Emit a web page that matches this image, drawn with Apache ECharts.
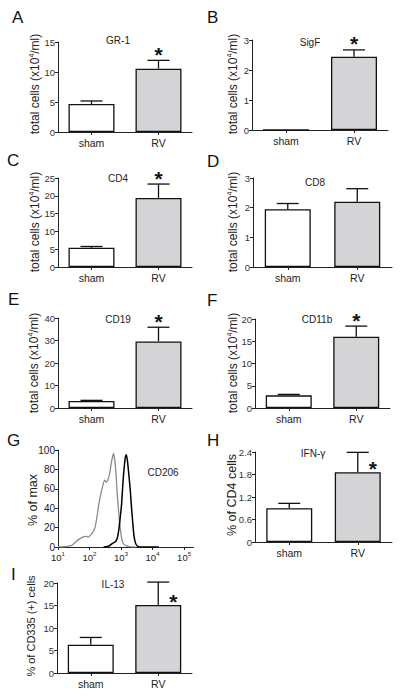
<!DOCTYPE html>
<html><head><meta charset="utf-8">
<script src="https://cdn.jsdelivr.net/npm/echarts@6/dist/echarts.min.js"></script>
<style>html,body{margin:0;padding:0;background:#fff}#c{width:400px;height:697px}</style>
</head><body><div id="c"></div>
<script>
// ---------------- DATA ----------------
const categories = ['sham', 'RV'];

const gr1Mean = [4.67, 10.56],  gr1Sem = [0.50, 1.38];
const sigfMean = [0, 2.44],     sigfSem = [0, 0.23];
const cd4Mean = [5.39, 19.4],   cd4Sem = [0.37, 3.9];
const cd8Mean = [1.95, 2.20],   cd8Sem = [0.19, 0.44];
const cd19Mean = [3.1, 29.6],   cd19Sem = [0.3, 6.3];
const cd11bMean = [2.84, 16.0], cd11bSem = [0.22, 2.4];
const ifngMean = [0.90, 1.86],  ifngSem = [0.13, 0.53];
const il13Mean = [6.3, 15.1],   il13Sem = [1.6, 5.1];

const gr1Sig = [0, 1], sigfSig = [0, 1], cd4Sig = [0, 1], cd8Sig = [0, 0];
const cd19Sig = [0, 1], cd11bSig = [0, 1], ifngSig = [0, 1], il13Sig = [0, 1];

// y-axis tick settings [max, interval]
const gr1Ticks = [15, 5], sigfTicks = [3, 1], cd4Ticks = [25, 5], cd8Ticks = [3, 1];
const cd19Ticks = [40, 10], cd11bTicks = [20, 5], ifngTicks = [2.4, 0.6], il13Ticks = [20, 5];

// CD206 histogram: [log10 fluorescence, % of max]
const cd206Gray = [[1.0,0],[1.28,0.7],[1.45,2],[1.55,5],[1.70,8.6],[1.80,10.5],[1.88,11],[1.96,10.3],[2.04,12.5],[2.12,16],[2.18,21],[2.24,32],[2.30,45],[2.36,55],[2.42,63],[2.48,69],[2.53,67],[2.58,69],[2.64,76],[2.70,88],[2.76,96.5],[2.80,90],[2.84,76],[2.88,55],[2.92,38],[2.96,24],[3.00,13],[3.05,5],[3.12,2],[3.25,0.5],[3.45,0]];
const cd206Black = [[2.45,0],[2.62,1],[2.72,3.5],[2.82,5.5],[2.88,9],[2.93,18],[2.98,32],[3.02,45],[3.06,66],[3.10,82],[3.14,93],[3.17,95],[3.21,87],[3.25,74],[3.29,60],[3.33,42],[3.37,26],[3.41,12],[3.46,4],[3.52,1],[3.65,0],[4.2,0]];
const cd206Decades = [1, 2, 3, 4, 5];
const cd206YTicks = [100, 20];

const panelLetters = ['A','B','C','D','E','F','G','H','I'];
const panelTitles = ['GR-1','SigF','CD4','CD8','CD19','CD11b','CD206','IFN-γ','IL-13'];
const yCells = '{n|total cells (x10}{s|4}{n|/ml)}';
const yNames = [yCells, yCells, yCells, yCells, yCells, yCells, '{n|% of max}', '{n|% of CD4 cells}', '{n|% of CD335 (+) cells}'];

// ---------------- LAYOUT ----------------
const F = 'Liberation Sans, Arial, sans-serif';
const bars = [
  {mean: gr1Mean, sem: gr1Sem, sig: gr1Sig, ticks: gr1Ticks, l:58, r:192, t:42, b:132, star:'top'},
  {mean: sigfMean, sem: sigfSem, sig: sigfSig, ticks: sigfTicks, l:252, r:388, t:40, b:130, star:'top'},
  {mean: cd4Mean, sem: cd4Sem, sig: cd4Sig, ticks: cd4Ticks, l:58, r:192, t:178, b:267, star:'top'},
  {mean: cd8Mean, sem: cd8Sem, sig: cd8Sig, ticks: cd8Ticks, l:253, r:392, t:178, b:267, star:'top'},
  {mean: cd19Mean, sem: cd19Sem, sig: cd19Sig, ticks: cd19Ticks, l:58, r:192, t:318, b:408, star:'top'},
  {mean: cd11bMean, sem: cd11bSem, sig: cd11bSig, ticks: cd11bTicks, l:255, r:390, t:319, b:408, star:'top'},
  null,
  {mean: ifngMean, sem: ifngSem, sig: ifngSig, ticks: ifngTicks, l:255, r:392, t:452, b:542, star:'right'},
  {mean: il13Mean, sem: il13Sem, sig: il13Sig, ticks: il13Ticks, l:57, r:192, t:583, b:673, star:'right'}
];
const letterPos = [[12,17.5],[207,17.5],[7,160],[207,161.5],[8,299.5],[207,300],[7,440.5],[207,440.5],[11,574]];
const titlePos = [[118,40],[310,42],[118,178],[315,182],[118,319],[317,319],[163,472],[313,453],[113,584]];
const yNamePos = [[35,84,12],[233,84,12],[35,222,12],[233,222,12],[34,363,12],[233,363,12],[33,500,12.5],[232,495,12.5],[31,626,11]];

const grids = [], xAxes = [], yAxes = [], series = [];
const axLine = {show: true, lineStyle: {color: '#222', width: 1}};

function errRender(mode) {
  return function (params, api) {
    const j = api.value(0), m = api.value(1), e = api.value(2), sig = api.value(3);
    const children = [];
    const base = api.coord([j, m]);
    const cx = base[0];
    const top = api.coord([j, m + e]);
    if (e > 0) {
      children.push({type:'line', shape:{x1:cx, y1:base[1], x2:cx, y2:top[1]}, style:{stroke:'#111', lineWidth:1.3}});
      children.push({type:'line', shape:{x1:cx-11, y1:top[1], x2:cx+11, y2:top[1]}, style:{stroke:'#111', lineWidth:1.3}});
    }
    if (sig) {
      let sx, sy;
      if (mode === 'top') { sx = cx; sy = top[1] - 11; } else { sx = cx + 15; sy = base[1] - 9; }
      children.push({type:'text', x: sx, y: sy + 5, style:{text:'*', font:'bold 21px ' + F, fill:'#111', align:'center', verticalAlign:'middle'}});
    }
    return {type:'group', children};
  };
}

bars.forEach((p, i) => {
  if (!p) {
    grids.push({left:58, top:450, width:135.5, height:97, containLabel:false, outerBoundsMode:'none'});
    xAxes.push({type:'value', gridIndex:i, min:1, max:5.3, interval:1,
      axisLine: axLine, splitLine:{show:false},
      axisTick:{show:true, length:3, customValues: cd206Decades, lineStyle:{color:'#222'}},
      axisLabel:{customValues: cd206Decades, margin:4, formatter: v => '{b|10}{s|' + v + '}',
        rich:{b:{fontFamily:F, fontSize:9.5, color:'#222', lineHeight:12}, s:{fontFamily:F, fontSize:6, color:'#222', lineHeight:6, verticalAlign:'top'}}}});
    yAxes.push({type:'value', gridIndex:i, min:0, max:cd206YTicks[0], interval:cd206YTicks[1],
      axisLine: axLine, splitLine:{show:false},
      axisTick:{show:true, length:3, lineStyle:{color:'#222'}},
      axisLabel:{fontFamily:F, fontSize:10, color:'#222', margin:3}});
    series.push({type:'line', xAxisIndex:i, yAxisIndex:i, data: cd206Gray, showSymbol:false, symbol:'none', smooth:0.2,
      lineStyle:{color:'#8a8a8a', width:1.3}, silent:true, animation:false});
    series.push({type:'line', xAxisIndex:i, yAxisIndex:i, data: cd206Black, showSymbol:false, symbol:'none', smooth:0.2,
      lineStyle:{color:'#000', width:1.5}, silent:true, animation:false});
    return;
  }
  grids.push({left:p.l, top:p.t, width:p.r - p.l, height:p.b - p.t, containLabel:false, outerBoundsMode:'none'});
  xAxes.push({type:'category', gridIndex:i, data: categories, axisLine: axLine,
    axisTick:{show:true, alignWithLabel:true, length:3, lineStyle:{color:'#222'}},
    axisLabel:{fontFamily:F, fontSize:10.5, color:'#222', margin:5}});
  yAxes.push({type:'value', gridIndex:i, min:0, max:p.ticks[0], interval:p.ticks[1],
    axisLine: axLine, splitLine:{show:false},
    axisTick:{show:true, length:3, lineStyle:{color:'#222'}},
    axisLabel:{fontFamily:F, fontSize:9.5, color:'#333', margin:3}});
  series.push({type:'bar', xAxisIndex:i, yAxisIndex:i, barWidth:46, silent:true, animation:false,
    itemStyle:{borderColor:'#111', borderWidth:1.3},
    data: p.mean.map((v, j) => ({value: v, itemStyle:{color: j ? '#d4d4d7' : '#ffffff'}}))});
  series.push({type:'custom', xAxisIndex:i, yAxisIndex:i, silent:true, animation:false, z:5,
    renderItem: errRender(p.star),
    data: p.mean.map((v, j) => [j, v, p.sem[j], p.sig[j]])});
});

const graphics = [];
panelLetters.forEach((t, i) => graphics.push({type:'text', x:letterPos[i][0], y:letterPos[i][1],
  style:{text:t, font:'17px ' + F, fill:'#111', align:'left', verticalAlign:'middle'}}));
panelTitles.forEach((t, i) => graphics.push({type:'text', x:titlePos[i][0], y:titlePos[i][1],
  style:{text:t, font:'10px ' + F, fill:'#222', align:'center', verticalAlign:'middle'}}));
yNames.forEach((t, i) => {
  const fs = yNamePos[i][2];
  graphics.push({type:'text', x:yNamePos[i][0], y:yNamePos[i][1], rotation: Math.PI / 2,
    style:{text:t, align:'center', verticalAlign:'middle',
      rich:{n:{fontFamily:F, fontSize:fs, fill:'#222', lineHeight:fs + 2},
            s:{fontFamily:F, fontSize:Math.round(fs * 0.62), fill:'#222', lineHeight:7, verticalAlign:'top'}}}});
});

const chart = echarts.init(document.getElementById('c'), null, {renderer:'svg', width:400, height:697});
chart.setOption({
  animation:false, backgroundColor:'#fff',
  grid: grids, xAxis: xAxes, yAxis: yAxes, series: series, graphic: graphics
});
</script></body></html>
